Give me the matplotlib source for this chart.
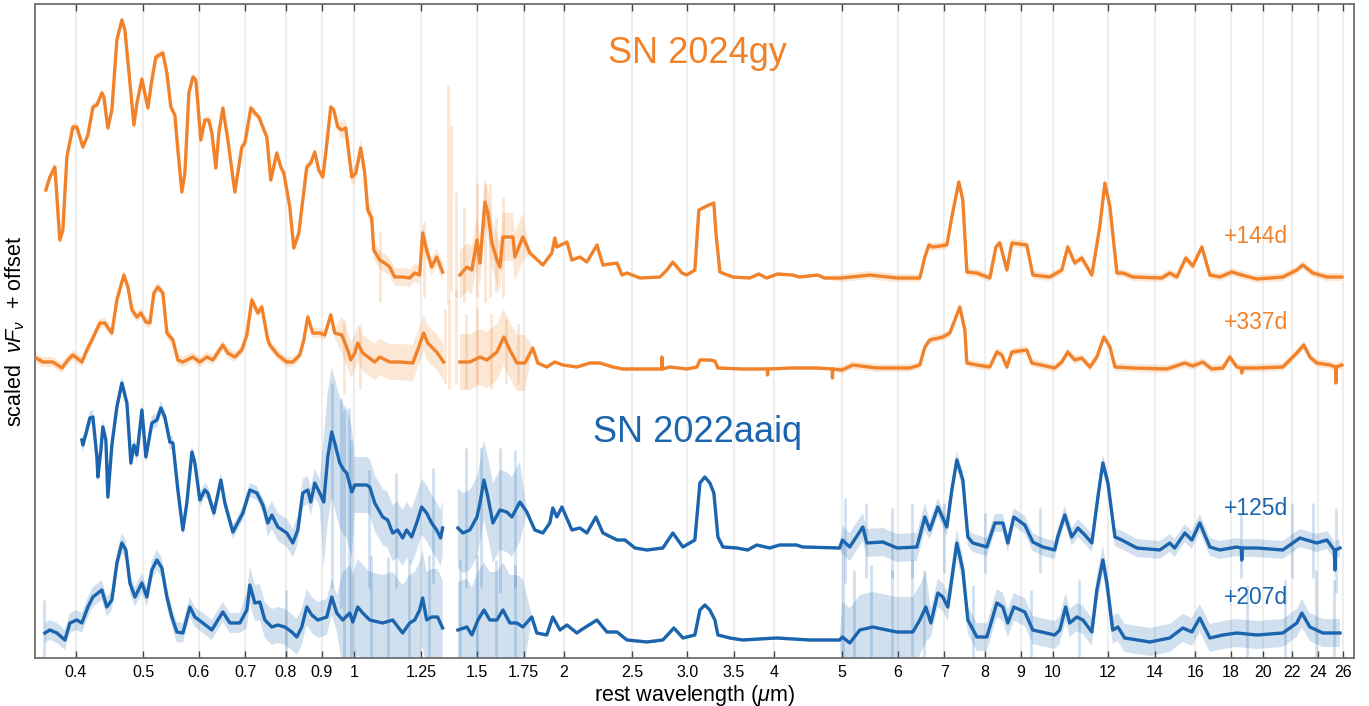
import numpy as np
import matplotlib.pyplot as plt
from matplotlib.ticker import FixedLocator, FixedFormatter, NullLocator

plt.rcParams['font.family'] = ['Liberation Sans', 'DejaVu Sans']
plt.rcParams['mathtext.fontset'] = 'custom'
plt.rcParams['mathtext.rm'] = 'Liberation Sans'
plt.rcParams['mathtext.it'] = 'Liberation Sans:italic'

# spectra as (rest wavelength [um], flux above its own continuum [arb.])
# nan rows are the gap between the NIR bands
nan = np.nan
gy_144 = [
    (0.3627, 87), (0.3675, 100), (0.3736, 110), (0.3798, 37), (0.3836, 47), (0.3887, 120),
    (0.3964, 150), (0.4017, 150), (0.4097, 130), (0.4166, 142), (0.4235, 170), (0.4291, 172),
    (0.4362, 184), (0.4391, 180), (0.4449, 149), (0.4508, 167), (0.4583, 237), (0.4659, 257),
    (0.4706, 247), (0.4784, 194), (0.4848, 152), (0.4896, 174), (0.4977, 198), (0.5076, 169),
    (0.5143, 197), (0.5212, 220), (0.5333, 224), (0.5404, 204), (0.5475, 170), (0.5548, 162),
    (0.5603, 127), (0.5677, 85), (0.5734, 104), (0.5810, 184), (0.5887, 200), (0.5945, 197),
    (0.6044, 137), (0.6124, 157), (0.6205, 157), (0.6267, 144), (0.6350, 109), (0.6413, 144),
    (0.6498, 169), (0.6606, 137), (0.6760, 85), (0.6918, 130), (0.6987, 134), (0.7126, 169),
    (0.7220, 164), (0.7316, 160), (0.7511, 140), (0.7610, 97), (0.7762, 124), (0.7865, 110),
    (0.7943, 104), (0.8102, 70), (0.8210, 29), (0.8346, 44), (0.8568, 110), (0.8681, 114),
    (0.8796, 125), (0.8913, 107), (0.9031, 100), (0.9121, 124), (0.9272, 170), (0.9364, 167),
    (0.9488, 150), (0.9614, 147), (0.9742, 149), (0.9936, 100), (1.0068, 104), (1.0235, 129),
    (1.0370, 104), (1.0473, 67), (1.0612, 59), (1.0682, 27), (1.0894, 17), (1.1074, 14),
    (1.1258, 10), (1.1445, 0), (1.1750, 0), (1.2025, -1), (1.2225, 4), (1.2428, 2),
    (1.2551, 44), (1.2717, 27), (1.2928, 10), (1.3142, 20), (1.3404, 5), (nan, nan),
    (1.419, 2), (1.452, 10), (1.476, 7), (1.501, 37), (1.516, 14), (1.541, 75), (1.556, 64),
    (1.577, 34), (1.603, 17), (1.619, 10), (1.635, 40), (1.690, 40), (1.701, 20), (1.746, 40),
    (1.787, 24), (1.865, 12), (1.921, 24), (1.940, 39), (1.953, 30), (2.019, 35), (2.052, 17),
    (2.107, 20), (2.156, 15), (2.229, 32), (2.273, 12), (2.381, 14), (2.420, 2), (2.460, 4),
    (2.568, -1), (2.742, 0), (2.806, 7), (2.862, 15), (2.949, 4), (2.997, 2), (3.077, 7),
    (3.118, 67), (3.159, 69), (3.223, 72), (3.276, 74), (3.298, 44), (3.342, 5), (3.397, 3),
    (3.487, 0), (3.687, -1), (3.798, 3), (3.899, -1), (4.042, 3), (4.246, 2), (4.345, 0),
    (4.610, 2), (4.718, -1), (4.990, -1), (5.476, 2), (5.99, -1), (6.457, -1), (6.565, 20),
    (6.652, 32), (6.740, 30), (7.058, 32), (7.175, 60), (7.342, 95), (7.440, 77), (7.539, 5),
    (7.792, 4), (8.133, -1), (8.295, 30), (8.406, 34), (8.601, 7), (8.742, 34), (9.185, 32),
    (9.369, 2), (9.908, 0), (10.31, 7), (10.51, 30), (10.76, 14), (11.01, 19), (11.38, 2),
    (11.68, 50), (11.88, 94), (12.08, 70), (12.36, 4), (12.60, 4), (13.03, 0), (14.33, -1),
    (14.71, 4), (15.06, 0), (15.51, 19), (15.87, 11), (16.35, 30), (16.79, 2), (17.35, 0),
    (18.05, 5), (18.65, 2), (19.60, -2), (21.35, 0), (22.36, 7), (22.80, 12), (23.57, 4),
    (24.69, 0), (25.94, 0),
]
gy_337 = [
    (0.3510, 11), (0.3592, 7), (0.3712, 7), (0.3824, 1), (0.3900, 9), (0.3964, 14),
    (0.4084, 7), (0.4152, 19), (0.4221, 29), (0.4333, 46), (0.4405, 46), (0.4508, 36),
    (0.4583, 69), (0.4690, 94), (0.4753, 82), (0.4816, 59), (0.4896, 52), (0.4961, 56),
    (0.5043, 47), (0.5110, 46), (0.5178, 76), (0.5246, 82), (0.5333, 76), (0.5404, 36),
    (0.5512, 29), (0.5603, 9), (0.5696, 7), (0.5887, 12), (0.6024, 7), (0.6164, 12),
    (0.6288, 9), (0.6498, 24), (0.6606, 16), (0.6760, 12), (0.6918, 19), (0.7033, 34),
    (0.7150, 69), (0.7292, 56), (0.7388, 62), (0.7536, 29), (0.7587, 24), (0.7788, 14),
    (0.8022, 7), (0.8183, 7), (0.8373, 14), (0.8484, 29), (0.8596, 52), (0.8738, 36),
    (0.8942, 36), (0.9091, 34), (0.9272, 54), (0.9395, 36), (0.9614, 34), (0.9806, 19),
    (0.9904, 9), (1.0035, 16), (1.0134, 26), (1.0303, 16), (1.0717, 7), (1.0894, 12),
    (1.1258, 7), (1.1635, 7), (1.2145, 6), (1.2346, 19), (1.2594, 36), (1.2760, 26),
    (1.3142, 17), (1.3448, 7), (nan, nan),
    (1.419, 7), (1.466, 7), (1.516, 12), (1.551, 9), (1.603, 17), (1.640, 32), (1.673, 19),
    (1.712, 6), (1.758, 6), (1.804, 21), (1.834, 6), (1.889, 2), (1.940, 7), (1.992, 4),
    (2.086, 2), (2.178, 6), (2.251, 6), (2.350, 2), (2.428, 0), (2.757, 0), (2.760, 12),
    (2.763, 0), (2.834, 2), (2.997, 0), (3.098, 2), (3.129, 9), (3.233, 9), (3.287, 8),
    (3.320, 1), (3.603, 0), (3.905, 0), (3.910, -6), (3.915, 0), (4.246, 1), (4.595, 1),
    (4.838, 0), (4.842, -9), (4.846, 0), (4.998, -1), (5.178, 4), (5.604, 1), (6.248, 1),
    (6.457, 4), (6.565, 22), (6.674, 29), (6.965, 32), (7.128, 36), (7.367, 62), (7.489, 39),
    (7.539, 6), (7.792, 4), (8.133, 2), (8.322, 17), (8.461, 14), (8.601, 2), (8.742, 17),
    (9.185, 19), (9.339, 6), (10.07, 1), (10.31, 7), (10.51, 17), (10.76, 9), (11.01, 11),
    (11.31, 2), (11.57, 12), (11.84, 32), (12.08, 22), (12.28, 2), (13.03, 1), (14.57, 0),
    (15.46, 6), (15.87, 3), (16.40, 7), (16.90, 0), (17.52, 1), (17.93, 12), (18.35, 2),
    (18.62, 1), (18.65, -4), (18.68, 1), (19.60, 1), (21.35, 2), (22.36, 16), (22.88, 24),
    (23.34, 12), (23.88, 6), (24.93, 4), (25.40, 2), (25.43, -14), (25.46, 2), (25.94, 4),
]
aaiq_125 = [
    (0.4084, 108), (0.4097, 103), (0.4152, 118), (0.4193, 130), (0.4235, 131), (0.4291, 91),
    (0.4305, 71), (0.4348, 98), (0.4376, 121), (0.4420, 108), (0.4449, 51), (0.4508, 103),
    (0.4583, 141), (0.4659, 165), (0.4737, 145), (0.4800, 85), (0.4848, 103), (0.4896, 93),
    (0.4977, 138), (0.5043, 91), (0.5143, 125), (0.5229, 128), (0.5298, 140), (0.5368, 131),
    (0.5457, 106), (0.5512, 105), (0.5603, 58), (0.5696, 18), (0.5771, 45), (0.5868, 96),
    (0.5926, 85), (0.6024, 48), (0.6124, 58), (0.6185, 55), (0.6309, 35), (0.6456, 68),
    (0.6541, 45), (0.6716, 16), (0.6941, 35), (0.7103, 58), (0.7268, 55), (0.7413, 43),
    (0.7536, 25), (0.7636, 33), (0.7788, 21), (0.8022, 15), (0.8183, 5), (0.8318, 18),
    (0.8456, 55), (0.8596, 58), (0.8681, 46), (0.8796, 65), (0.8942, 55), (0.9061, 46),
    (0.9181, 91), (0.9303, 116), (0.9426, 101), (0.9551, 85), (0.9677, 78), (0.9774, 75),
    (0.9936, 56), (1.0035, 63), (1.0439, 63), (1.0543, 61), (1.0717, 45), (1.1001, 31),
    (1.1184, 28), (1.1369, 15), (1.1558, 18), (1.1750, 10), (1.1905, 18), (1.2105, 11),
    (1.2306, 25), (1.2510, 41), (1.2717, 35), (1.2928, 25), (1.3142, 18), (1.3316, 10),
    (1.3404, 20), (nan, nan),
    (1.4096, 20), (1.4330, 15), (1.466, 18), (1.501, 31), (1.516, 45), (1.536, 68),
    (1.556, 51), (1.582, 25), (1.619, 38), (1.656, 36), (1.684, 31), (1.729, 46), (1.769, 36),
    (1.816, 18), (1.865, 15), (1.908, 25), (1.927, 40), (1.953, 31), (1.986, 41), (2.052, 18),
    (2.107, 20), (2.156, 15), (2.221, 31), (2.273, 15), (2.381, 8), (2.444, 8), (2.526, 0),
    (2.628, -2), (2.769, 0), (2.862, 15), (2.958, 1), (3.077, 8), (3.129, 65), (3.180, 71),
    (3.233, 65), (3.276, 55), (3.320, 11), (3.375, 1), (3.534, 0), (3.663, -2), (3.773, 3),
    (3.938, 0), (4.068, 3), (4.302, 3), (4.388, 1), (4.958, 0), (5.003, 8), (5.126, 1),
    (5.351, 21), (5.422, 5), (5.716, 6), (5.99, 0), (6.394, 1), (6.565, 31), (6.674, 18),
    (6.852, 41), (7.058, 21), (7.175, 58), (7.294, 88), (7.440, 68), (7.564, 11), (7.690, 5),
    (8.053, 1), (8.268, 25), (8.489, 25), (8.629, 5), (8.800, 31), (9.125, 23), (9.369, 6),
    (9.682, 1), (10.07, -2), (10.17, 11), (10.41, 33), (10.65, 11), (10.87, 20), (11.12, 13),
    (11.38, 5), (11.61, 51), (11.80, 85), (12.00, 65), (12.28, 11), (12.56, 8), (13.20, 0),
    (14.24, -2), (14.71, 5), (14.95, 0), (15.46, 15), (15.82, 8), (16.24, 25), (16.79, 1),
    (17.35, -2), (18.35, 1), (18.62, 0), (18.65, -12), (18.68, 0), (19.60, 0), (21.35, -2),
    (22.58, 10), (23.88, 5), (24.69, 8), (25.30, -2), (25.35, -22), (25.40, -2), (25.77, 0),
]
aaiq_207 = [
    (0.3615, 7), (0.3675, 10), (0.3761, 7), (0.3862, 0), (0.3926, 17), (0.4017, 20),
    (0.4084, 17), (0.4166, 33), (0.4235, 43), (0.4362, 50), (0.4434, 33), (0.4508, 40),
    (0.4583, 77), (0.4659, 97), (0.4721, 90), (0.4784, 57), (0.4864, 43), (0.4977, 57),
    (0.5059, 43), (0.5143, 70), (0.5229, 80), (0.5315, 72), (0.5404, 43), (0.5493, 23),
    (0.5585, 8), (0.5696, 7), (0.5829, 33), (0.5926, 23), (0.6084, 17), (0.6267, 10),
    (0.6392, 20), (0.6498, 28), (0.6650, 17), (0.6872, 17), (0.7033, 30), (0.7103, 55),
    (0.7220, 37), (0.7340, 38), (0.7462, 20), (0.7636, 13), (0.7788, 15), (0.7970, 13),
    (0.8156, 8), (0.8291, 3), (0.8428, 13), (0.8568, 33), (0.8710, 25), (0.8884, 20),
    (0.9151, 23), (0.9303, 43), (0.9458, 27), (0.9646, 20), (0.9871, 27), (0.9970, 18),
    (1.0134, 33), (1.0303, 27), (1.0543, 20), (1.1001, 17), (1.1369, 20), (1.1750, 7),
    (1.2025, 17), (1.2225, 20), (1.2428, 30), (1.2551, 42), (1.2717, 20), (1.2928, 23),
    (1.3185, 23), (1.3404, 12), (nan, nan),
    (1.4096, 10), (1.452, 13), (1.476, 5), (1.506, 20), (1.536, 30), (1.566, 20), (1.603, 20),
    (1.635, 30), (1.673, 17), (1.712, 17), (1.746, 13), (1.798, 23), (1.828, 7), (1.889, 5),
    (1.927, 23), (1.973, 10), (2.019, 15), (2.086, 7), (2.115, 10), (2.229, 20), (2.303, 8),
    (2.381, 8), (2.460, 0), (2.628, -2), (2.769, 0), (2.872, 12), (2.958, 2), (3.077, 5),
    (3.129, 30), (3.180, 35), (3.233, 30), (3.287, 20), (3.320, 5), (3.453, 2), (3.603, 0),
    (4.028, 2), (4.490, 0), (4.958, 0), (5.003, 3), (5.126, -3), (5.299, 10), (5.530, 13),
    (5.792, 10), (5.99, 8), (6.310, 8), (6.457, 20), (6.586, 33), (6.696, 17), (6.852, 47),
    (6.965, 43), (7.081, 33), (7.294, 97), (7.440, 70), (7.564, 20), (7.792, 3), (8.053, 3),
    (8.322, 37), (8.489, 33), (8.629, 17), (8.800, 33), (9.125, 28), (9.369, 10), (10.07, 5),
    (10.24, 10), (10.44, 33), (10.58, 17), (10.83, 23), (11.05, 20), (11.38, 8), (11.57, 50),
    (11.80, 80), (11.96, 57), (12.19, 10), (12.40, 13), (12.68, 2), (13.78, -2), (14.71, 2),
    (15.36, 12), (15.82, 8), (16.24, 22), (16.79, 2), (17.52, 5), (18.35, 7), (19.60, 5),
    (21.35, 7), (22.36, 17), (22.73, 27), (23.34, 13), (24.36, 7), (25.77, 7),
]

# uncertainty (half width) per wavelength range: (lo, hi, sigma)
err_gy_144 = [(0.35, 0.95, 4), (0.95, 1.36, 9), (1.36, 1.76, 24), (1.76, 4.98, 1.5), (4.98, 27, 4)]
err_gy_337 = [(0.35, 0.95, 5), (0.95, 1.36, 18), (1.36, 1.76, 28), (1.76, 4.98, 1.5), (4.98, 27, 4)]
err_aaiq_125 = [(0.35, 0.75, 7), (0.75, 0.9, 14), (0.9, 1.0, 65), (1.0, 1.36, 28), (1.36, 1.76, 40),
                (1.76, 4.98, 1.5), (4.98, 6.6, 14), (6.6, 27, 9)]
err_aaiq_207 = [(0.35, 0.7, 10), (0.7, 0.95, 18), (0.95, 1.36, 48), (1.36, 1.76, 48),
                (1.76, 4.98, 1.5), (4.98, 6.6, 35), (6.6, 27, 14)]

# strongest noise spikes in the error band: (wavelength, low, high)
spk_gy_144 = [(1.09, -25, 45), (1.26, -20, 55), (1.364, -25, 192), (1.378, -15, 152), (1.40, -20, 85),
              (1.44, -25, 70), (1.503, -20, 94), (1.541, -25, 94), (1.566, -20, 94), (1.60, -15, 60),
              (1.635, -20, 80)]
spk_gy_337 = [(0.97, -25, 50), (1.02, -20, 45), (1.35, -15, 60), (1.37, -20, 69), (1.40, -15, 79),
              (1.45, -20, 55), (1.50, -15, 62), (1.57, -20, 55), (1.65, -15, 50), (1.72, -15, 45)]
spk_aaiq_125 = [(0.93, -40, 165), (0.96, -60, 150), (0.985, -70, 140), (1.05, -40, 78), (1.15, -40, 75),
                (1.30, -35, 80), (1.45, -40, 100), (1.52, -40, 101), (1.62, -45, 100), (1.70, -40, 98),
                (5.05, -35, 50), (5.4, -30, 45), (5.9, -30, 40), (6.3, -30, 45), (7.0, -25, 45),
                (8.0, -25, 35), (9.6, -25, 40), (18.6, -30, 35), (22.0, -30, 45), (23.6, -30, 45),
                (25.4, -45, 40)]
spk_aaiq_207 = [(0.36, -25, 40), (0.80, -40, 50), (0.97, -60, 230), (0.99, -60, 200), (1.06, -50, 85),
                (1.12, -50, 83), (1.20, -50, 80), (1.28, -50, 85), (1.42, -50, 80), (1.50, -50, 85),
                (1.60, -50, 80), (1.70, -50, 75), (5.02, -20, 97), (5.2, -20, 70), (5.5, -20, 75),
                (5.9, -20, 70), (6.3, -20, 80), (6.55, -20, 70), (7.7, -25, 55), (9.3, -25, 50),
                (10.9, -25, 60), (19.0, -30, 55), (21.5, -25, 60), (23.8, -40, 70), (25.3, -50, 60)]

offsets = [3.81, 2.89, 1.10, 0.18]
scale = 0.01
phases = ['+144d', '+337d', '+125d', '+207d']
label_y = [4.215, 3.355, 1.495, 0.605]

orange = '#f1822a'
blue = '#1b64ae'

ticks = [0.4, 0.5, 0.6, 0.7, 0.8, 0.9, 1, 1.25, 1.5, 1.75, 2, 2.5, 3, 3.5, 4, 5, 6, 7, 8, 9, 10,
         12, 14, 16, 18, 20, 22, 24, 26]
tick_labels = ['0.4', '0.5', '0.6', '0.7', '0.8', '0.9', '1', '1.25', '1.5', '1.75', '2', '2.5', '3.0',
               '3.5', '4', '5', '6', '7', '8', '9', '10', '12', '14', '16', '18', '20', '22', '24', '26']


def sigma_for(wl, regions):
    s = np.zeros_like(wl)
    for lo, hi, v in regions:
        s[(wl >= lo) & (wl < hi)] = v
    return s


fig = plt.figure(figsize=(13.69, 7.06), dpi=100)
ax = fig.add_axes([0.0256, 0.068, 0.9635, 0.9263])

spectra = [(gy_144, err_gy_144, spk_gy_144, orange),
           (gy_337, err_gy_337, spk_gy_337, orange),
           (aaiq_125, err_aaiq_125, spk_aaiq_125, blue),
           (aaiq_207, err_aaiq_207, spk_aaiq_207, blue)]

for (data, err, spk, c), off in zip(spectra, offsets):
    wl, fl = np.array(data, dtype=float).T
    y = off + scale * fl
    s = scale * sigma_for(wl, err)
    ax.fill_between(np.ma.masked_invalid(wl), np.ma.masked_invalid(y - s), np.ma.masked_invalid(y + s),
                    color=c, alpha=0.2, lw=0, zorder=1)
    sw, slo, shi = np.array(spk, dtype=float).T
    ax.vlines(sw, off + scale * slo, off + scale * shi, color=c, alpha=0.2, lw=2, zorder=1)

for (data, err, spk, c), off in zip(spectra, offsets):
    wl, fl = np.array(data, dtype=float).T
    ax.plot(wl, off + scale * fl, color=c, lw=2.4, zorder=3, solid_joinstyle='round')

for name, yv, c in zip(phases, label_y, [orange, orange, blue, blue]):
    ax.text(17.58, yv, name, color=c, fontsize=16.5, ha='left', va='center')

ax.text(3.1, 6.045, 'SN 2024gy', color=orange, fontsize=26, ha='center', va='center')
ax.text(3.1, 2.255, 'SN 2022aaiq', color=blue, fontsize=26, ha='center', va='center')

ax.set_xscale('log')
ax.set_xlim(0.35, 27)
ax.set_ylim(0, 6.54)
ax.xaxis.set_major_locator(FixedLocator(ticks))
ax.xaxis.set_major_formatter(FixedFormatter(tick_labels))
ax.xaxis.set_minor_locator(NullLocator())
ax.set_yticks([])
ax.grid(axis='x', color='#eeeeee', lw=1.5, zorder=0)
ax.set_axisbelow(True)
ax.tick_params(axis='x', direction='in', length=5, width=1, color='#444444', top=True,
               labelsize=11.5, pad=5)
for sp in ax.spines.values():
    sp.set_color('#6e6e6e')
    sp.set_linewidth(1.3)

ax.set_xlabel(r'rest wavelength ($\mu$m)', fontsize=15.5, labelpad=2)
ax.set_ylabel(r'scaled  $\nu F_{\nu}$  + offset', fontsize=15.5, labelpad=6)

fig.savefig('out.png', dpi=100)
